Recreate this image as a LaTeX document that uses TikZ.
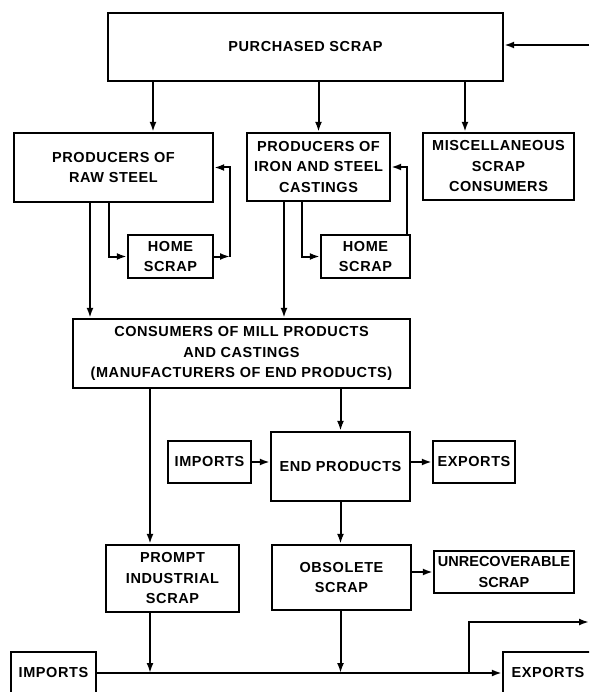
\documentclass[tikz,border=0pt]{standalone}
\usepackage{fontspec}
\setmainfont[LetterSpace=4]{Liberation Sans}
\usetikzlibrary{
	arrows.meta,
	positioning,
	calc
}

\begin{document}
\begin{tikzpicture}[
		x=1pt, y=-1pt,
		box/.style={draw, rectangle, line width=2.4pt, align=center, inner sep=0pt, font=\fontsize{14.5}{20.5}\selectfont\bfseries},
		arrow/.style={-{Latex[length=10pt,width=7pt]}, line width=2pt}
		]
		\useasboundingbox (0,0) rectangle (589,692);
		\clip (0,0) rectangle (589,692);
		
		% --- Top row ---
		\node[box, minimum width=395pt, minimum height=68pt] (purchased) at (305.5,47) {PURCHASED SCRAP};
		
		% --- Producers ---
		\node[box, minimum width=199pt, minimum height=69pt] (raw) at (113.5,167.5) {PRODUCERS OF \\ RAW STEEL};
		\node[box, minimum width=143pt, minimum height=68pt] (castings) at (318.5,167) {PRODUCERS OF \\ IRON AND STEEL \\ CASTINGS};
		\node[box, minimum width=151pt, minimum height=67pt] (misc) at (498.5,166.5) {MISCELLANEOUS \\ SCRAP \\ CONSUMERS};
		\node[box, minimum width=85pt, minimum height=43pt] (home1) at (170.5,256.5) {HOME \\ SCRAP};
		\node[box, minimum width=89pt, minimum height=43pt] (home2) at (365.5,256.5) {HOME \\ SCRAP};
		
		% --- Consumers ---
		\node[box, minimum width=337pt, minimum height=69pt] (consumers) at (241.5,353.5)
		{CONSUMERS OF MILL PRODUCTS \\ AND CASTINGS \\ (MANUFACTURERS OF END PRODUCTS)};
		
		% --- End products row ---
		\node[box, minimum width=83pt, minimum height=42pt] (imports1) at (209.5,462) {IMPORTS};
		\node[box, minimum width=139pt, minimum height=69pt] (endprod) at (340.5,466.5) {END PRODUCTS};
		\node[box, minimum width=82pt, minimum height=42pt] (exports1) at (474,462) {EXPORTS};
		
		% --- Scrap row ---
		\node[box, minimum width=133pt, minimum height=67pt] (prompt) at (172.5,578.5) {PROMPT \\ INDUSTRIAL \\ SCRAP};
		\node[box, minimum width=139pt, minimum height=65pt] (obsolete) at (341.5,577.5) {OBSOLETE \\ SCRAP};
		\node[box, minimum width=140pt, minimum height=42pt] (unrec) at (504,572)
		{\addfontfeature{LetterSpace=0}UNRECOVERABLE \\ \addfontfeature{LetterSpace=0}SCRAP};
		
		% --- Bottom row ---
		\node[box, minimum width=85pt, minimum height=42pt] (imports2) at (53.5,673) {IMPORTS};
		\node[box, minimum width=90pt, minimum height=42pt] (exports2) at (548,673) {EXPORTS};
		
		% --- Columns and free ends ---
		\coordinate (inR) at (589,45);
		\coordinate (outR) at (589,622);
		\coordinate (colA) at (153,0);
		\coordinate (colB) at (465,0);
		\coordinate (colC) at (90,0);
		\coordinate (colD) at (284,0);
		\coordinate (colE) at (109,0);
		\coordinate (colF) at (302,0);
		\coordinate (colG) at (407,0);
		\coordinate (colH) at (150,0);
		\coordinate (colI) at (469,0);
		\coordinate (loop1) at (230,256.5);
		
		% --- Arrows ---
		\draw[arrow] (inR) -- (inR -| purchased.east);
		\draw[arrow] (purchased.south -| colA) -- (raw.north -| colA);
		\draw[arrow] (purchased.south -| castings.north) -- (castings.north);
		\draw[arrow] (purchased.south -| colB) -- (misc.north -| colB);
		
		\draw[arrow] (raw.south -| colE) |- (home1.west);
		\draw[arrow] (home1.east) -- (loop1);
		\draw[arrow] (loop1) |- (raw.east);
		\draw[arrow] (castings.south -| colF) |- (home2.west);
		\draw[arrow] (home2.north -| colG) |- (castings.east);
		
		\draw[arrow] (raw.south -| colC) -- (consumers.north -| colC);
		\draw[arrow] (castings.south -| colD) -- (consumers.north -| colD);
		
		\draw[arrow] (consumers.south -| colH) -- (prompt.north -| colH);
		\draw[arrow] (consumers.south -| endprod.north) -- (endprod.north);
		
		\draw[arrow] (imports1.east) -- (imports1.east -| endprod.west);
		\draw[arrow] (exports1.west -| endprod.east) -- (exports1.west);
		\draw[arrow] (endprod.south) -- (obsolete.north -| endprod.south);
		\draw[arrow] (unrec.west -| obsolete.east) -- (unrec.west);
		
		% --- Scrap collection line ---
		\draw[arrow] (imports2.east) -- (exports2.west);
		\draw[arrow] (prompt.south -| colH) -- (imports2.east -| colH);
		\draw[arrow] (obsolete.south -| endprod.south) -- (imports2.east -| endprod.south);
		\draw[arrow] (imports2.east -| colI) |- (outR);
		
	\end{tikzpicture}
\end{document}
